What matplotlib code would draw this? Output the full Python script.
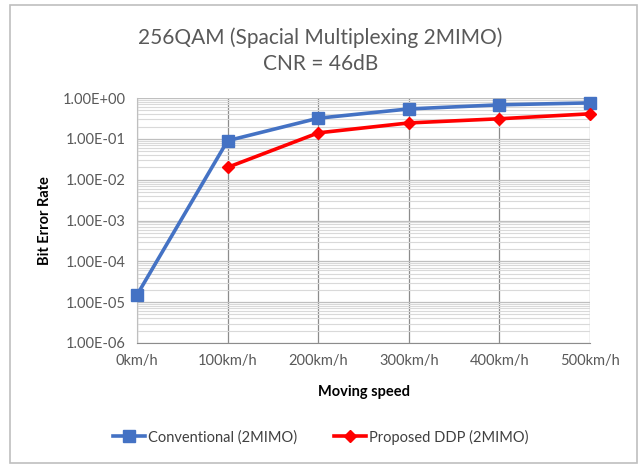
import matplotlib.pyplot as plt
from matplotlib.patches import Rectangle
from matplotlib.ticker import LogLocator, FixedLocator

plt.rcParams['font.family'] = ['Lato', 'DejaVu Sans']

speeds = ['0km/h', '100km/h', '200km/h', '300km/h', '400km/h', '500km/h']
conv_x = [0, 1, 2, 3, 4, 5]
conv_ber = [1.5e-5, 0.09, 0.32, 0.54, 0.68, 0.76]
ddp_x = [1, 2, 3, 4, 5]
ddp_ber = [0.02, 0.14, 0.245, 0.31, 0.41]
ytick_vals = [1e0, 1e-1, 1e-2, 1e-3, 1e-4, 1e-5, 1e-6]
ytick_labels = ['1.00E+00', '1.00E-01', '1.00E-02', '1.00E-03', '1.00E-04', '1.00E-05', '1.00E-06']

fig = plt.figure(figsize=(6.41, 4.65), dpi=100)
ax = fig.add_axes([137/641, 1 - 343/465, (590-137)/641, (343-98)/465])

# chart frame
fig.patches.append(Rectangle((10/641, 1 - 463/465), 627/641, 458/465,
                             transform=fig.transFigure, fill=False,
                             edgecolor='#bfbfbf', linewidth=1.2))

ax.plot(conv_x, conv_ber, color='#4472C4', lw=2.6, marker='s', ms=8,
        label='Conventional (2MIMO)', zorder=3, clip_on=False)
ax.plot(ddp_x, ddp_ber, color='#FF0000', lw=2.6, marker='D', ms=6,
        label='Proposed DDP (2MIMO)', zorder=4, clip_on=False)

ax.set_yscale('log')
ax.set_ylim(1e-6, 1)
ax.set_xlim(0, 5)
ax.yaxis.set_major_locator(FixedLocator(ytick_vals))
ax.set_yticks(ytick_vals)
ax.set_yticklabels(ytick_labels)
ax.yaxis.set_minor_locator(LogLocator(base=10, subs=range(2, 10)))
ax.yaxis.set_minor_formatter(plt.NullFormatter())
ax.set_xticks(conv_x)
ax.set_xticklabels(speeds)

ax.grid(True, which='minor', axis='y', color='#d9d9d9', lw=0.8)
ax.grid(True, which='major', axis='y', color='#bfbfbf', lw=0.9)
ax.grid(True, which='major', axis='x', color='#8c8c8c', lw=0.9)

for side in ['top', 'right']:
    ax.spines[side].set_visible(False)
ax.spines['left'].set_color('#bfbfbf')
ax.spines['bottom'].set_color('#8c8c8c')
ax.tick_params(which='both', length=0, labelsize=10.5, colors='#595959', pad=8)

ax.set_xlabel('Moving speed', fontsize=10.5, fontweight='bold', labelpad=12)
ax.set_ylabel('Bit Error Rate', fontsize=10.5, fontweight='bold', labelpad=8)

fig.text(0.5, 1 - 38/465, '256QAM (Spacial Multiplexing 2MIMO)', ha='center',
         va='center', fontsize=15, color='#595959')
fig.text(0.5, 1 - 64/465, 'CNR = 46dB', ha='center', va='center',
         fontsize=15, color='#595959')

fig.legend(loc='center', bbox_to_anchor=(0.5, 1 - 437/465), ncol=2,
           frameon=False, fontsize=10.5, handlelength=2.2, columnspacing=2.5,
           handletextpad=0.2, labelcolor='#404040')

fig.savefig('out.png', dpi=100)
